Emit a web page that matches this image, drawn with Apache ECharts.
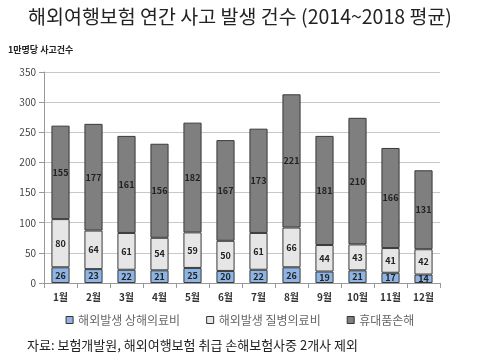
<!DOCTYPE html>
<html><head><meta charset="utf-8">
<script src="https://cdn.jsdelivr.net/npm/echarts@6/dist/echarts.min.js"></script>
<style>html,body{margin:0;padding:0;background:#fff}#c{width:480px;height:361px}</style>
</head><body><div id="c"></div>
<script>
const months = ['1월','2월','3월','4월','5월','6월','7월','8월','9월','10월','11월','12월'];
const injury = [26,23,22,21,25,20,22,26,19,21,17,14];
const disease = [80,64,61,54,59,50,61,66,44,43,41,42];
const phone = [155,177,161,156,182,167,173,221,181,210,166,131];
const seriesNames = ['해외발생 상해의료비','해외발생 질병의료비','휴대품손해'];
const yTicks = [0,50,100,150,200,250,300,350];

const font = '"Noto Sans CJK KR", "Noto Sans", sans-serif';
const colors = ['#8db4e2','#e6e6e6','#7f7f7f'];
const chart = echarts.init(document.getElementById('c'));
const lbl = {show:true, position:'inside', color:'#222', fontSize:9, fontWeight:'bold', fontFamily:font};
const mk = (name, data, i) => ({
  name, type:'bar', stack:'a', data, barWidth:'55%',
  itemStyle:{color:colors[i], borderColor:'#3a3a3a', borderWidth:1},
  label:lbl
});
chart.setOption({
  animation:false,
  textStyle:{fontFamily:font},
  title:[
    {text:'해외여행보험 연간 사고 발생 건수 (2014~2018 평균)', left:'center', top:2,
     textStyle:{fontSize:19.5, fontWeight:'normal', color:'#222', fontFamily:font}},
    {text:'1만명당 사고건수', left:3, top:40, textStyle:{fontSize:9, fontWeight:'bold', color:'#222', fontFamily:font}},
    {text:'자료: 보험개발원, 해외여행보험 취급 손해보험사중 2개사 제외', left:22, top:334,
     textStyle:{fontSize:13, fontWeight:'normal', color:'#222', fontFamily:font}}
  ],
  legend:{data:seriesNames, top:309, left:'center', itemWidth:7, itemHeight:7, itemGap:26,
    icon:'rect', textStyle:{fontSize:12, color:'#666', fontFamily:font},
    itemStyle:{borderColor:'#333', borderWidth:1}},
  grid:{left:44, right:40, top:72, bottom:78},
  xAxis:{type:'category', data:months,
    axisLine:{lineStyle:{color:'#999'}}, axisTick:{show:true, lineStyle:{color:'#999'}},
    axisLabel:{color:'#333', fontSize:10, fontWeight:'bold', margin:9}},
  yAxis:{type:'value', min:yTicks[0], max:yTicks[yTicks.length-1], interval:50,
    axisLine:{show:true, lineStyle:{color:'#999'}}, axisTick:{show:true, lineStyle:{color:'#999'}},
    axisLabel:{color:'#444', fontSize:10}},
  series:[mk(seriesNames[0], injury, 0), mk(seriesNames[1], disease, 1), mk(seriesNames[2], phone, 2)]
});
chart.setOption({yAxis:{splitLine:{lineStyle:{color:'#c8c8c8'}}}});
</script></body></html>
